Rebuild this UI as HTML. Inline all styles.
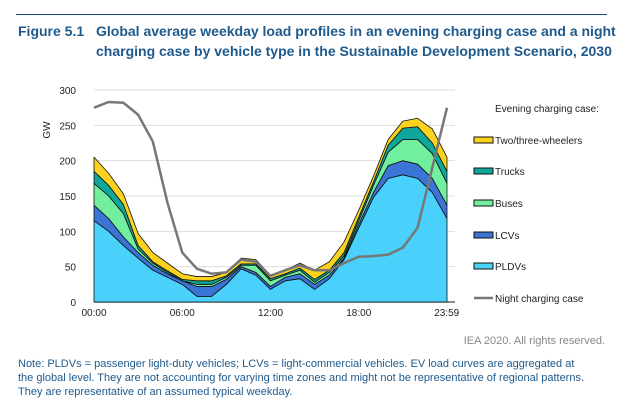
<!DOCTYPE html>
<html><head><meta charset="utf-8"><style>
body{margin:0;background:#fff;width:623px;height:407px;overflow:hidden;font-family:"Liberation Sans",sans-serif}
.t{position:absolute;color:#1f5a8c;font-weight:bold;font-size:14px;line-height:20px}
</style></head><body>
<div style="position:absolute;left:16px;top:14px;width:591px;height:1px;background:#1f4e79"></div>
<div class="t" style="left:18px;top:21px">Figure 5.1</div>
<div class="t" style="left:96px;top:21px;width:520px">Global average weekday load profiles in an evening charging case and a night charging case by vehicle type in the Sustainable Development Scenario, 2030</div>
<svg id="c" width="623" height="407" style="position:absolute;left:0;top:0" font-family="Liberation Sans, sans-serif"></svg>
<div style="position:absolute;right:18px;top:335px;font-size:11px;color:#888">IEA 2020. All rights reserved.</div>
<div style="position:absolute;left:18px;top:357px;width:570px;font-size:11px;line-height:14px;color:#1f5a8c">Note: PLDVs = passenger light-duty vehicles; LCVs = light-commercial vehicles. EV load curves are aggregated at the global level. They are not accounting for varying time zones and might not be representative of regional patterns. They are representative of an assumed typical weekday.</div>
<script>
const hours=[0,1,2,3,4,5,6,7,8,9,10,11,12,13,14,15,16,17,18,19,20,21,22,23,24];
const pldv=[115,100,80,62,45,35,25,8,8,25,47,38,18,30,33,18,33,60,105,148,175,180,175,155,118];
const lcv=[22,18,12,8,7,5,5,14,14,7,3,4,4,5,7,7,5,2,5,7,18,20,20,20,19];
const buses=[31,32,33,5,3,2,0,3,3,3,2,10,8,3,5,3,4,3,5,10,19,30,35,35,31];
const trucks=[17,15,13,5,2,2,2,5,5,2,2,2,3,2,3,4,3,5,5,5,10,16,18,15,17];
const wheelers=[20,17,15,17,13,11,8,6,6,5,8,6,5,5,7,13,12,15,10,8,8,10,12,20,20];
const night=[275,283,282,265,227,140,70,47,40,42,60,57,37,45,52,45,45,55,64,65,67,77,105,190,275];
const yTicks=[0,50,100,150,200,250,300];
const xTicks=[[0,"00:00"],[6,"06:00"],[12,"12:00"],[18,"18:00"],[23.98,"23:59"]];
const series=[["PLDVs",pldv,"#49d0fb"],["LCVs",lcv,"#3a74d4"],["Buses",buses,"#72ef9e"],["Trucks",trucks,"#0fa79a"],["Two/three-wheelers",wheelers,"#fdd21f"]];
const X=h=>94+h*(447-94)/24, Y=v=>302-v*212/300;
const svg=document.getElementById('c');const NS="http://www.w3.org/2000/svg";
function mk(t,a,p){const e=document.createElementNS(NS,t);for(const k in a)e.setAttribute(k,a[k]);(p||svg).appendChild(e);return e;}
yTicks.forEach(v=>{
 const g=mk('line',{x1:94,x2:455,y1:Y(v),y2:Y(v),stroke:v?"#ddd":"#444","stroke-width":v?1:1.2});
 
 
 const t=mk('text',{x:76,y:Y(v)+4,"text-anchor":"end","font-size":10,fill:"#222"});t.textContent=v;
 
 
});
const yt=mk('text',{x:50,y:130,"font-size":10,fill:"#222",transform:"rotate(-90 50 130)","text-anchor":"middle"});yt.textContent="GW";


xTicks.forEach(([h,l])=>{const t=mk('text',{x:X(h),y:316,"text-anchor":"middle","font-size":10,fill:"#222"});t.textContent=l;
 
 });
let base=hours.map(()=>0);
series.forEach(([n,vals,c])=>{
 const top=base.map((b,i)=>b+vals[i]);
 let d="M"+hours.map((h,i)=>X(h)+","+Y(top[i])).join("L");
 for(let i=hours.length-1;i>=0;i--)d+="L"+X(hours[i])+","+Y(base[i]);
 const p=mk('path',{d:d+"Z",fill:c,stroke:"#111","stroke-width":0.8,"stroke-linejoin":"round"});
 
 
 base=top;
});
const nl=mk('polyline',{points:hours.map((h,i)=>X(h)+","+Y(night[i])).join(" "),fill:"none",stroke:"#777","stroke-width":2.5});


const lh=mk('text',{x:495,y:112,"font-size":10,fill:"#222"});lh.textContent="Evening charging case:";


const leg=[...series].reverse();const ly=[140,171,203,235,266];
leg.forEach(([n,v,c],i)=>{
 const r=mk('rect',{x:474,y:ly[i]-3,width:19,height:6,fill:c,stroke:"#111","stroke-width":1});
 
 
 const t=mk('text',{x:495,y:ly[i]+4,"font-size":10,fill:"#222"});t.textContent=n;
 
 
});
const ll=mk('line',{x1:474,x2:493,y1:298,y2:298,stroke:"#777","stroke-width":2.5});


const lt=mk('text',{x:495,y:302,"font-size":10,fill:"#222"});lt.textContent="Night charging case";


</script>
</body></html>
